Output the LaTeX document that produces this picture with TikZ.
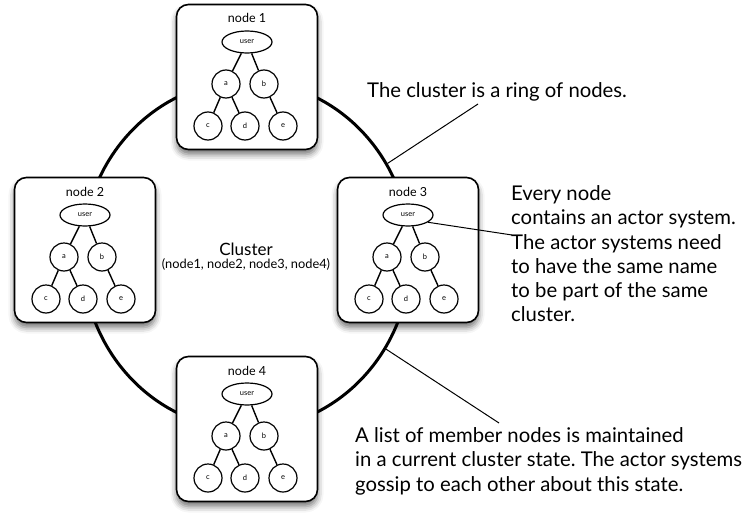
\documentclass[tikz,border=0pt]{standalone}
\usepackage{fontspec}
\setmainfont{Lato}
\frenchspacing
\usetikzlibrary{shapes.geometric,shadows.blur}
\tikzset{
  member/.style={draw,line width=1.6pt,rounded corners=12pt,fill=white,minimum width=141pt,minimum height=145pt,
    blur shadow={shadow xshift=0pt,shadow yshift=-5pt,shadow blur radius=6pt,shadow opacity=55}},
  actor/.style={circle,draw,line width=1.2pt,minimum size=28pt,inner sep=0pt,font=\fontsize{7.5}{8}\selectfont},
  usernode/.style={ellipse,draw,line width=1.2pt,minimum width=50pt,minimum height=22pt,inner sep=0pt,font=\fontsize{7.5}{8}\selectfont},
  treeline/.style={line width=1.4pt},
  callout/.style={line width=1pt},
  note/.style={font=\fontsize{20.3}{24.2}\selectfont,align=left,inner sep=0pt}
}
\begin{document}
\begin{tikzpicture}[x=1pt,y=-1pt]
  \useasboundingbox (0,0) rectangle (750,530);
  % the ring
  \node[ellipse,draw,line width=3pt,minimum width=328pt,minimum height=348pt,inner sep=0pt] (ring) at (246.5,255) {};
  \node[font=\fontsize{17}{18}\selectfont,anchor=base] (clusterlabel) at (246,255) {Cluster};
  \node[font=\fontsize{12.8}{14}\selectfont,anchor=base] (memberlist) at (246,268) {(node1, node2, node3, node4)};
  % the four members
  \foreach \i/\x/\y in {1/247/77, 2/85/250, 3/408/250, 4/247/429} {
    \node[member] (box\i) at (\x,\y) {};
    \node[font=\fontsize{12.5}{14}\selectfont,anchor=base] (title\i) at (\x,\y-54) {node \i};
    \node[usernode] (user\i) at (\x,\y-35) {user};
    \node[actor] (a\i) at (\x-21,\y+7) {a};
    \node[actor] (b\i) at (\x+17,\y+7) {b};
    \node[actor] (c\i) at (\x-39,\y+49) {c};
    \node[actor] (d\i) at (\x-2,\y+49) {d};
    \node[actor] (e\i) at (\x+36,\y+49) {e};
    \draw[treeline] (user\i) -- (a\i) (user\i) -- (b\i);
    \draw[treeline] (a\i) -- (c\i) (a\i) -- (d\i) (b\i) -- (e\i);
  }
  % notes
  \node[note,anchor=base west] (ringnote) at (367,97) {The cluster is a ring of nodes.};
  \node[note,anchor=north west] (systemnote) at (511,185.5) {Every node\\contains an actor system.\\The actor systems need\\to have the same name\\to be part of the same\\cluster.};
  \node[note,anchor=north west] (gossipnote) at (355,427.5) {A list of member nodes is maintained\\in a current cluster state. The actor systems\\gossip to each other about this state.};
  \coordinate (tip1) at (478,104);
  \coordinate (tip2) at (512,235);
  \coordinate (tip3) at (499,423);
  \draw[callout] (ring.33) -- (tip1);
  \draw[callout] (user3.-20) -- (tip2);
  \draw[callout] (ring.-34) -- (tip3);
\end{tikzpicture}
\end{document}
